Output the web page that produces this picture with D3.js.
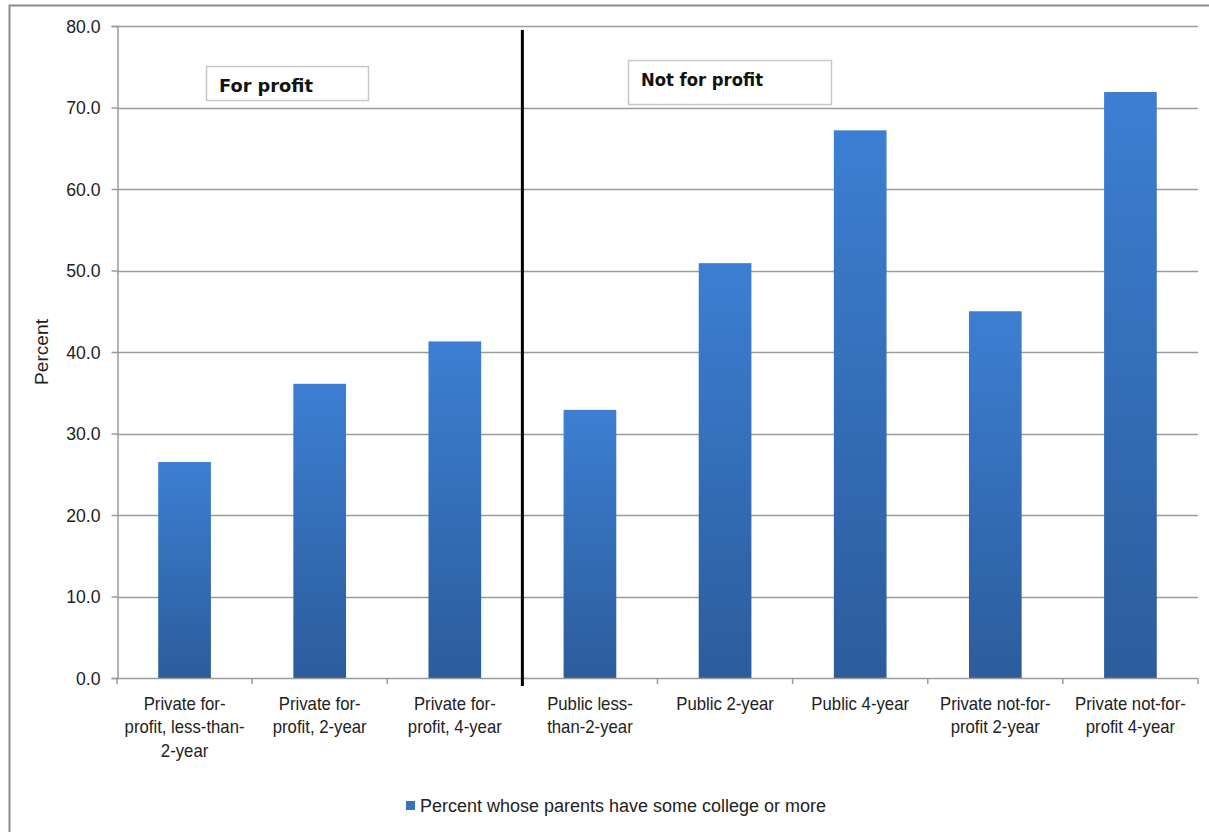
<!DOCTYPE html>
<html>
<head>
<meta charset="utf-8">
<script src="https://cdn.jsdelivr.net/npm/d3@7"></script>
<style>
  html, body { margin: 0; padding: 0; background: #fff; }
  svg { display: block; font-family: "Liberation Sans", Arial, sans-serif; }
</style>
</head>
<body>
<svg id="chart" width="1209" height="832"></svg>
<script>
// Institution types and share of students whose parents have some college or more
const categories = [
  ["Private for-", "profit, less-than-", "2-year"],
  ["Private for-", "profit, 2-year"],
  ["Private for-", "profit, 4-year"],
  ["Public less-", "than-2-year"],
  ["Public 2-year"],
  ["Public 4-year"],
  ["Private not-for-", "profit 2-year"],
  ["Private not-for-", "profit 4-year"]
];
const values = [26.5, 36.1, 41.3, 32.9, 50.9, 67.2, 45.0, 71.9];
const yTicks = [0, 10, 20, 30, 40, 50, 60, 70, 80];
const groupLabels = ["For profit", "Not for profit"];
const seriesName = "Percent whose parents have some college or more";

const svg = d3.select("#chart");
const plotLeft = 117, plotRight = 1198, plotTop = 26, plotBottom = 678;

// outer chart frame
svg.append("rect")
  .attr("x", 9.5).attr("y", 5.5).attr("width", 1230).attr("height", 860)
  .attr("fill", "#fff").attr("stroke", "#8c8c8c").attr("stroke-width", 2);

const x = d3.scaleBand().domain(d3.range(categories.length)).range([plotLeft, plotRight]).paddingInner(0.61).paddingOuter(0.305);
const xb = d3.scaleBand().domain(d3.range(categories.length)).range([plotLeft, plotRight]);
const y = d3.scaleLinear().domain([0, 80]).range([plotBottom, plotTop]);

// horizontal gridlines
svg.append("g").selectAll("line").data(yTicks.filter(d => d > 0)).join("line")
  .attr("x1", plotLeft).attr("x2", plotRight)
  .attr("y1", d => Math.round(y(d)) + 0.5).attr("y2", d => Math.round(y(d)) + 0.5)
  .attr("stroke", "#9a9a9a").attr("stroke-width", 1.5);

// bar gradient, lighter at the top
const grad = svg.append("defs").append("linearGradient")
  .attr("id", "barGrad").attr("x1", 0).attr("y1", 0).attr("x2", 0).attr("y2", 1);
grad.append("stop").attr("offset", "0%").attr("stop-color", "#3c7fd2");
grad.append("stop").attr("offset", "100%").attr("stop-color", "#2c5c9c");

svg.append("g").selectAll("rect").data(values).join("rect")
  .attr("x", (d, i) => x(i)).attr("width", x.bandwidth())
  .attr("y", d => y(d)).attr("height", d => y(0) - y(d))
  .attr("fill", "url(#barGrad)");

// y axis
const yAxis = svg.append("g").attr("transform", `translate(${plotLeft + 0.5},0)`)
  .call(d3.axisLeft(y).tickValues(yTicks).tickFormat(d3.format(".1f")).tickSize(6).tickPadding(10));
yAxis.select(".domain").attr("stroke", "#9a9a9a").attr("stroke-width", 1.5);
yAxis.selectAll(".tick line").attr("stroke", "#9a9a9a").attr("stroke-width", 1.5);
yAxis.selectAll(".tick text").attr("fill", "#222").style("font-size", "19px")
  .attr("transform", "scale(0.93,1)").attr("x", -17 / 0.93);

// x axis baseline and category boundary ticks
const xAxisG = svg.append("g");
xAxisG.append("line").attr("x1", plotLeft).attr("x2", plotRight)
  .attr("y1", plotBottom + 0.5).attr("y2", plotBottom + 0.5).attr("stroke", "#9a9a9a").attr("stroke-width", 1.5);
xAxisG.selectAll("line.tk").data(d3.range(categories.length + 1)).join("line").attr("class", "tk")
  .attr("x1", i => i < categories.length ? xb(i) : plotRight).attr("x2", i => i < categories.length ? xb(i) : plotRight)
  .attr("y1", plotBottom).attr("y2", plotBottom + 6).attr("stroke", "#9a9a9a").attr("stroke-width", 1.5);

// category labels
const lab = svg.append("g").selectAll("text").data(categories).join("text")
  .attr("text-anchor", "middle").attr("fill", "#222").style("font-size", "18px")
  .attr("transform", (d, i) => `translate(${xb(i) + xb.bandwidth() / 2},710) scale(0.93,1)`);
lab.selectAll("tspan").data(d => d).join("tspan")
  .attr("x", 0).attr("dy", (d, j) => j === 0 ? 0 : 23.5).text(d => d);

// divider between for-profit and not-for-profit groups
svg.append("line").attr("x1", xb(3)).attr("x2", xb(3)).attr("y1", 30).attr("y2", plotBottom + 8)
  .attr("stroke", "#000").attr("stroke-width", 3);

// group label boxes
const boxes = [
  { label: groupLabels[0], x0: 206, y0: 66, w: 162, h: 34 },
  { label: groupLabels[1], x0: 628, y0: 60, w: 203, h: 44 }
];
const bg = svg.append("g").selectAll("g").data(boxes).join("g");
bg.append("rect").attr("x", d => d.x0 + 0.5).attr("y", d => d.y0 + 0.5)
  .attr("width", d => d.w).attr("height", d => d.h)
  .attr("fill", "#fff").attr("stroke", "#c8c8c8").attr("stroke-width", 1.5);
bg.append("text").attr("x", d => d.x0 + 13).attr("y", d => d.y0 + 26)
  .attr("fill", "#111").style("font-size", "18px").style("font-weight", "bold")
  .style("font-family", "'DejaVu Sans', sans-serif").attr("textLength", (d, i) => i === 0 ? 94 : 122)
  .attr("lengthAdjust", "spacingAndGlyphs").text(d => d.label);

// y axis title
svg.append("text").attr("transform", "translate(48,352) rotate(-90)")
  .attr("text-anchor", "middle").attr("fill", "#222").style("font-size", "18px")
  .attr("textLength", 66).attr("lengthAdjust", "spacingAndGlyphs").text("Percent");

// legend
const lg = svg.append("g").attr("transform", "translate(406,801)");
lg.append("rect").attr("width", 9).attr("height", 9).attr("fill", "#3a72c0");
lg.append("text").attr("x", 14).attr("y", 11).attr("fill", "#222").style("font-size", "18px")
  .attr("textLength", 406).attr("lengthAdjust", "spacingAndGlyphs").text(seriesName);
</script>
</body>
</html>
